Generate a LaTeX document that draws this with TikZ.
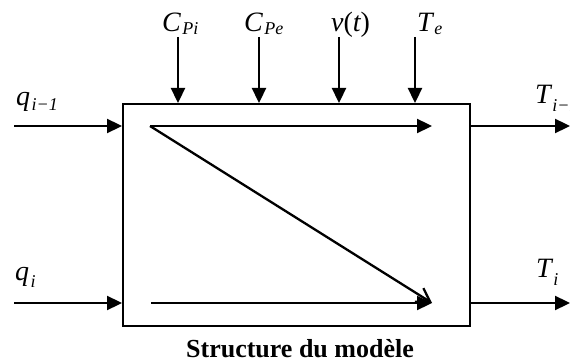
\documentclass[tikz,border=0pt]{standalone}
\usepackage{fontspec}
\setmainfont{Liberation Serif}
\usetikzlibrary{arrows.meta,positioning,calc}
\newcommand{\sym}[3][6pt]{{\itshape #2}\kern1.5pt\raisebox{-#1}{\fontsize{18}{20}\selectfont\itshape #3}}

\begin{document}
\begin{tikzpicture}[x=1pt, y=-1pt,
  lbl/.style={anchor=base west, inner sep=0pt, font=\fontsize{28}{32}\selectfont},
  arr/.style={-{Triangle[length=15pt, width=14pt]}, line width=2.3pt},
  barb/.style={-{Straight Barb[length=13pt, width=16pt]}, line width=2.3pt}
]
  \clip (0,0) rectangle (570,363);
  \node[draw, line width=2.2pt, minimum width=347pt, minimum height=222pt, inner sep=0pt, anchor=north west] (model) at (122,103) {};

  % entrees / sorties
  \coordinate (in1) at (14,126);
  \coordinate (in2) at (14,303);
  \coordinate (out1) at (570,126);
  \coordinate (out2) at (570,303);
  \draw[arr] (in1) -- (in1 -| model.west);
  \draw[arr] (in2) -- (in2 -| model.west);
  \draw[arr] (out1 -| model.east) -- (out1);
  \draw[arr] (out2 -| model.east) -- (out2);

  % grandeurs d'entree en haut
  \coordinate (cpi) at (178,37);
  \coordinate (cpe) at (259,37);
  \coordinate (vt) at (339,37);
  \coordinate (te) at (415,37);
  \foreach \c in {cpi,cpe,vt,te}
    \draw[arr] (\c) -- (\c |- model.north);

  % chemins internes
  \coordinate (a) at (150,126);
  \coordinate (b) at (432,126);
  \coordinate (c) at (151,303);
  \coordinate (d) at (432,303);
  \draw[arr] (a) -- (b);
  \draw[barb] (a) -- (d);
  \draw[arr] (c) -- (d);

  \node[lbl] (qa) at (16,106) {\sym[5pt]{q}{i−1}};
  \node[lbl] (qb) at (15,280) {\sym[7pt]{q}{i}};
  \node[lbl] (lcpi) at (162,32) {\sym[3pt]{C}{Pi}};
  \node[lbl] (lcpe) at (244,32) {\sym[3pt]{C}{Pe}};
  \node[lbl] (lvt) at (331,32) {\itshape v\upshape(\itshape t\upshape)};
  \node[lbl] (lte) at (417,32) {\sym[3pt]{T}{e}};
  \node[lbl] (ta) at (535,104) {\sym[8pt]{T}{i−1}};
  \node[lbl] (tb) at (536,277) {\sym[9pt]{T}{i}};

  \node[anchor=base, inner sep=0pt, font=\bfseries\fontsize{26}{30}\selectfont] (cap) at (300,357) {Structure du modèle};
\end{tikzpicture}
\end{document}
